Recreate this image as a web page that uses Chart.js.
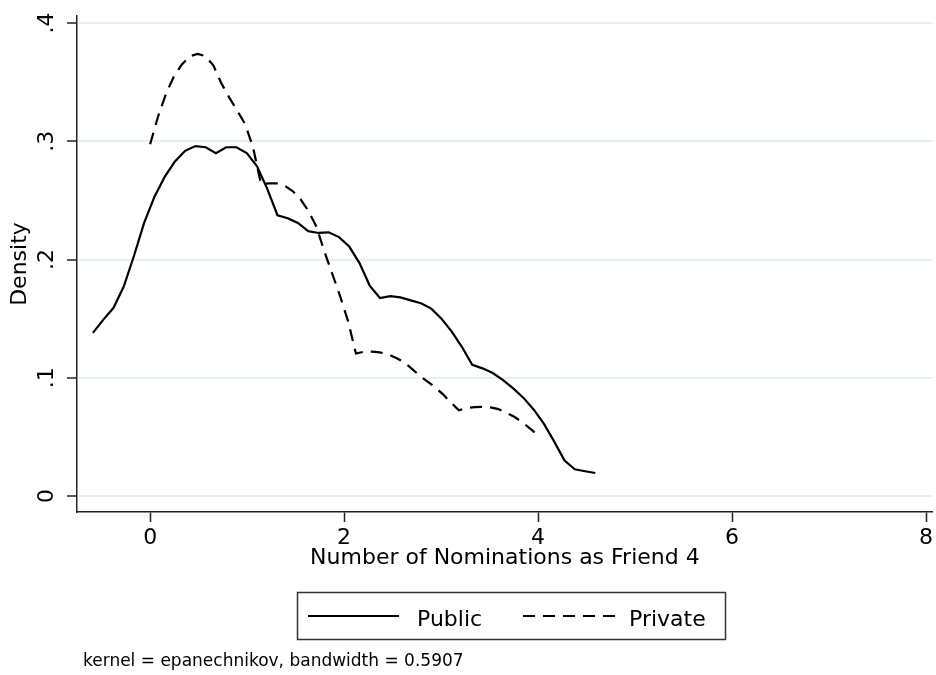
<!DOCTYPE html>
<html lang="en">
<head>
<meta charset="UTF-8">
<title>Kernel density - Friend 4 nominations</title>
<script src="https://cdn.jsdelivr.net/npm/chart.js@4.4.0/dist/chart.umd.min.js"></script>
<style>
  html, body { margin: 0; padding: 0; background: #fff; }
  #wrap { width: 936px; height: 675px; }
</style>
</head>
<body>
<div id="wrap"><canvas id="densityChart" width="936" height="675"></canvas></div>
<script>
// density estimates
const publicX = [-0.590, -0.484, -0.379, -0.273, -0.167, -0.062, 0.044, 0.150, 0.256, 0.361,
                 0.467, 0.573, 0.678, 0.784, 0.890, 0.996, 1.101, 1.207, 1.313, 1.419,
                 1.524, 1.630, 1.736, 1.841, 1.947, 2.053, 2.159, 2.264, 2.370, 2.476,
                 2.581, 2.687, 2.793, 2.899, 3.004, 3.110, 3.216, 3.321, 3.427, 3.533,
                 3.639, 3.744, 3.850, 3.956, 4.061, 4.167, 4.273, 4.379, 4.484, 4.590];
const publicY = [0.138, 0.149, 0.159, 0.177, 0.203, 0.231, 0.253, 0.270, 0.283, 0.292,
                 0.296, 0.295, 0.290, 0.295, 0.295, 0.290, 0.279, 0.260, 0.2375, 0.235,
                 0.231, 0.224, 0.2225, 0.223, 0.219, 0.211, 0.197, 0.178, 0.1675, 0.169,
                 0.168, 0.1655, 0.163, 0.1585, 0.150, 0.139, 0.126, 0.111, 0.108, 0.104,
                 0.098, 0.091, 0.083, 0.073, 0.061, 0.046, 0.030, 0.0226, 0.021, 0.0195];
const privateX = [0.000, 0.082, 0.163, 0.245, 0.327, 0.408, 0.490, 0.571, 0.653, 0.735,
                  0.816, 0.898, 0.980, 1.061, 1.143, 1.224, 1.306, 1.388, 1.469, 1.551,
                  1.633, 1.714, 1.796, 1.878, 1.959, 2.041, 2.122, 2.204, 2.286, 2.367,
                  2.449, 2.531, 2.612, 2.694, 2.776, 2.857, 2.939, 3.020, 3.102, 3.184,
                  3.265, 3.347, 3.429, 3.510, 3.592, 3.673, 3.755, 3.837, 3.918, 4.000];
const privateY = [0.2975, 0.321, 0.340, 0.355, 0.365, 0.372, 0.374, 0.372, 0.364, 0.349,
                  0.337, 0.326, 0.3145, 0.295, 0.264, 0.2645, 0.2645, 0.2625, 0.258, 0.251,
                  0.241, 0.228, 0.207, 0.188, 0.169, 0.148, 0.1205, 0.122, 0.1222, 0.1215,
                  0.120, 0.117, 0.1135, 0.108, 0.102, 0.097, 0.092, 0.086, 0.079, 0.0725,
                  0.0745, 0.0752, 0.0755, 0.075, 0.0735, 0.0705, 0.067, 0.0625, 0.057, 0.0514];

const seriesNames = ['Public', 'Private'];
const xTickValues = [0, 2, 4, 6, 8];
const xTickLabels = ['0', '2', '4', '6', '8'];
const yTickValues = [0, 0.1, 0.2, 0.3, 0.4];
const yTickLabels = ['0', '.1', '.2', '.3', '.4'];
const xTitle = 'Number of Nominations as Friend 4';
const yTitle = 'Density';
const noteText = 'kernel = epanechnikov, bandwidth = 0.5907';

const FONT = '"DejaVu Sans", "Liberation Sans", sans-serif';
const INK = '#000';

Chart.defaults.font.family = FONT;
Chart.defaults.color = '#000';

function toPoints(xs, ys) {
    return xs.map((x, i) => ({ x: x, y: ys[i] }));
}

// y tick labels are turned 90 degrees, Stata style
const yTickText = {
    id: 'yTickText',
    afterDraw(chart) {
        const ctx = chart.ctx;
        const ys = chart.scales.y;
        ctx.save();
        ctx.fillStyle = '#000';
        ctx.font = '22px ' + FONT;
        ctx.textAlign = 'center';
        ctx.textBaseline = 'alphabetic';
        yTickValues.forEach((v, i) => {
            const py = ys.getPixelForValue(v);
            ctx.save();
            ctx.translate(53, py);
            ctx.rotate(-Math.PI / 2);
            ctx.fillText(yTickLabels[i], 0, 0);
            ctx.restore();
        });
        ctx.restore();
    }
};

// boxed legend + kernel note under the plot
const legendBox = {
    id: 'legendBox',
    afterDraw(chart) {
        const ctx = chart.ctx;
        ctx.save();
        ctx.strokeStyle = '#333';
        ctx.lineWidth = 1.5;
        ctx.strokeRect(297.5, 592.5, 428, 47);

        const lineY = 616;
        const samples = [
            { x0: 308, x1: 399, tx: 417 },
            { x0: 523, x1: 617, tx: 629 }
        ];
        chart.data.datasets.forEach((ds, i) => {
            const s = samples[i];
            ctx.beginPath();
            ctx.setLineDash(ds.borderDash || []);
            ctx.strokeStyle = ds.borderColor;
            ctx.lineWidth = ds.borderWidth;
            ctx.moveTo(s.x0, lineY);
            ctx.lineTo(s.x1, lineY);
            ctx.stroke();
            ctx.setLineDash([]);
            ctx.fillStyle = '#000';
            ctx.font = '22px ' + FONT;
            ctx.textAlign = 'left';
            ctx.textBaseline = 'alphabetic';
            ctx.fillText(ds.label, s.tx, 625.5);
        });

        ctx.font = '17px ' + FONT;
        ctx.fillText(noteText, 83, 666);
        ctx.restore();
    }
};

const chart = new Chart(document.getElementById('densityChart'), {
    type: 'line',
    data: {
        datasets: [{
            label: seriesNames[0],
            data: toPoints(publicX, publicY),
            borderColor: INK,
            borderWidth: 2.2,
            pointRadius: 0,
            tension: 0,
            fill: false
        }, {
            label: seriesNames[1],
            data: toPoints(privateX, privateY),
            borderColor: INK,
            borderWidth: 2.2,
            borderDash: [12, 8],
            pointRadius: 0,
            tension: 0,
            fill: false
        }]
    },
    options: {
        responsive: false,
        animation: false,
        devicePixelRatio: 1,
        parsing: false,
        layout: { padding: { left: 0, right: 0, top: 16, bottom: 104 } },
        plugins: {
            legend: { display: false },
            tooltip: { enabled: false }
        },
        scales: {
            x: {
                type: 'linear',
                min: -0.754,
                max: 8.07,
                afterBuildTicks: s => { s.ticks = xTickValues.map(v => ({ value: v })); },
                afterFit: s => { s.height = 59; },
                grid: { drawOnChartArea: false, tickLength: 10, tickColor: '#222', tickWidth: 1.5 },
                border: { color: '#222', width: 1.5 },
                ticks: {
                    color: '#000',
                    font: { size: 22 },
                    padding: 3,
                    maxRotation: 0,
                    autoSkip: false,
                    callback: (v, i) => xTickLabels[i]
                },
                title: {
                    display: true,
                    text: xTitle,
                    color: '#000',
                    font: { size: 22 },
                    padding: { top: 0, bottom: 0 }
                }
            },
            y: {
                type: 'linear',
                min: -0.0135,
                max: 0.406,
                afterBuildTicks: s => { s.ticks = yTickValues.map(v => ({ value: v })); },
                afterFit: s => { s.width = 77; },
                grid: { color: '#e8eff1', lineWidth: 2, tickLength: 10, tickColor: '#222', tickWidth: 1.5 },
                border: { color: '#222', width: 1.5 },
                ticks: { display: false },
                title: {
                    display: true,
                    text: yTitle,
                    color: '#000',
                    font: { size: 22 },
                    padding: { top: 7, bottom: 0 }
                }
            }
        }
    },
    plugins: [yTickText, legendBox]
});
</script>
</body>
</html>
